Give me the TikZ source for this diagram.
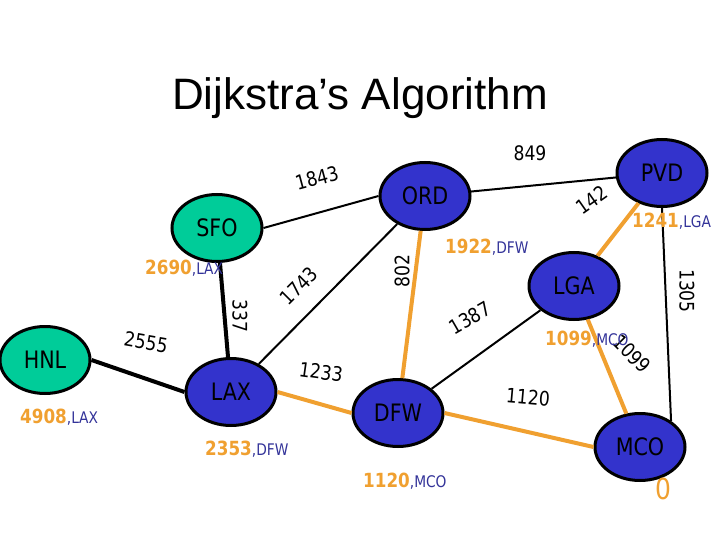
\documentclass[tikz,border=0pt]{standalone}
\usepackage{fontspec}
\setmainfont{DejaVu Sans}[FakeStretch=0.86]
\newfontfamily\titlefont{Liberation Sans}
\usepackage{xcolor}
\usepackage{tikz}
\usetikzlibrary{shapes.geometric}
\definecolor{citygreen}{HTML}{00CC99}
\definecolor{cityblue}{HTML}{3333CC}
\definecolor{pathorange}{HTML}{F0A030}
\definecolor{costnavy}{HTML}{333399}
\newcommand{\cost}[2]{{\color{pathorange}\fontsize{19.5}{22}\selectfont\bfseries #1}{\color{costnavy}\fontsize{16}{19}\selectfont ,#2}}

\begin{document}
\begin{tikzpicture}[
    x=1pt,y=-1pt,
    city/.style={ellipse,draw=black,line width=3pt,fill=cityblue,
                 minimum width=90pt,minimum height=67pt,inner sep=0pt,
                 font=\fontsize{24}{27}\selectfont},
    start/.style={city,fill=citygreen},
    road/.style={draw=black,line width=2pt},
    heavy/.style={draw=black,line width=4pt},
    best/.style={draw=pathorange,line width=4pt},
    dist/.style={font=\fontsize{20}{23}\selectfont,inner sep=0pt},
    tag/.style={anchor=base west,inner sep=0pt}
  ]
    \useasboundingbox (0,0) rectangle (720,540);
    \node[anchor=base,font=\titlefont\fontsize{44}{50}\selectfont] (title) at (360,110) {Dijkstra’s Algorithm};
    % airports
    \node[start] (HNL) at (45,360) {HNL};
    \node[start] (SFO) at (217,228) {SFO};
    \node[city] (ORD) at (425,196) {ORD};
    \node[city] (PVD) at (662,173) {PVD};
    \node[city] (LGA) at (574,286) {LGA};
    \node[city] (LAX) at (231,392) {LAX};
    \node[city] (DFW) at (398,413) {DFW};
    \node[city] (MCO) at (640,447) {MCO};
    % flights
    \draw[road] (SFO.east) -- (ORD.west);
    \draw[road] (ORD) -- (PVD);
    \draw[road] (ORD) -- (LAX);
    \draw[road] (PVD.south) -- (MCO.40);
    \draw[road] (DFW) -- (LGA);
    \draw[heavy] (SFO) -- (LAX);
    \draw[heavy] (HNL.east) -- (LAX.west);
    \draw[best] (ORD) -- (DFW);
    \draw[best] (PVD) -- (LGA);
    \draw[best] (LGA) -- (MCO);
    \draw[best] (LAX.east) -- (DFW.west);
    \draw[best] (DFW.east) -- (MCO.west);
    % distances
    \node[dist,rotate=15] (d1843) at (317,178) {1843};
    \node[dist] (d849) at (530,153) {849};
    \node[dist,rotate=35] (d142) at (592,200) {142};
    \node[dist,rotate=-90] (d1305) at (687,291) {1305};
    \node[dist,rotate=90] (d802) at (402,271) {802};
    \node[dist,rotate=-90] (d337) at (240,316) {337};
    \node[dist,rotate=45] (d1743) at (299,286) {1743};
    \node[dist,rotate=-10] (d2555) at (146,342) {2555};
    \node[dist,rotate=-8] (d1233) at (321,372) {1233};
    \node[dist,rotate=30] (d1387) at (470,318) {1387};
    \node[dist,rotate=-45] (d1099) at (632,354) {1099};
    \node[dist,rotate=-5] (d1120) at (528,397) {1120};
    % labels
    \node[tag] (cSFO) at (145,274) {\cost{2690}{LAX}};
    \node[tag] (cHNL) at (20,423) {\cost{4908}{LAX}};
    \node[tag] (cLAX) at (205,455) {\cost{2353}{DFW}};
    \node[tag] (cDFW) at (363,487) {\cost{1120}{MCO}};
    \node[tag] (cORD) at (445,253) {\cost{1922}{DFW}};
    \node[tag] (cPVD) at (632,227) {\cost{1241}{LGA}};
    \node[tag] (cLGA) at (545,345) {\cost{1099}{MCO}};
    \node[text=pathorange,font=\fontsize{29}{32}\selectfont,inner sep=0pt] (cMCO) at (663,489) {0};
  \end{tikzpicture}
\end{document}
